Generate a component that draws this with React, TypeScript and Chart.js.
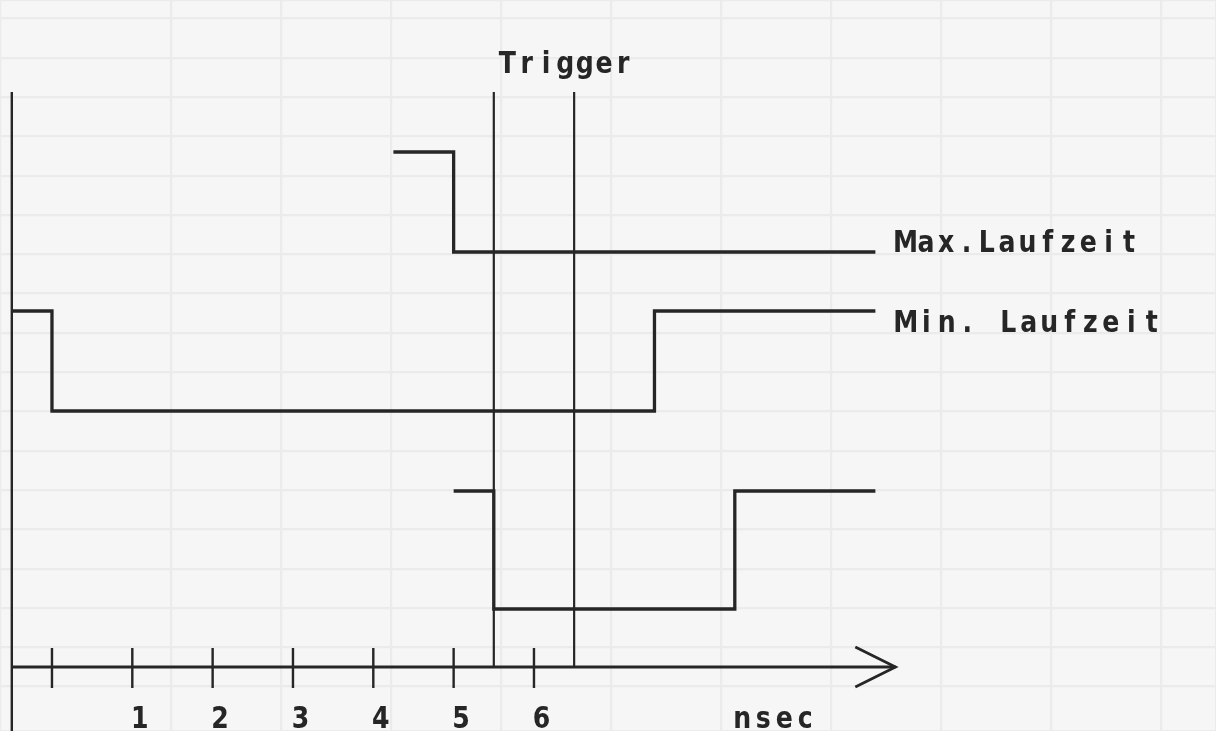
import { useEffect, useRef } from "react";
import { Chart, registerables } from "chart.js";

Chart.register(...registerables);

// time axis ticks (nsec)
const tickValues = [0, 1, 2, 3, 4, 5, 6];
const tickLabels = ["", "1", "2", "3", "4", "5", "6"];

// step signals (x in nsec, y in arbitrary level units)
const maxLaufzeitX = [4.25, 5, 5, 10.25];
const maxLaufzeitY = [51.5, 51.5, 41.5, 41.5];
const minLaufzeitX = [-0.5, 0, 0, 7.5, 7.5, 10.25];
const minLaufzeitY = [35.6, 35.6, 25.6, 25.6, 35.6, 35.6];
const signalX = [5, 5.5, 5.5, 8.5, 8.5, 10.25];
const signalY = [17.6, 17.6, 5.8, 5.8, 17.6, 17.6];

// trigger window
const triggerX = [5.5, 6.5];
const triggerTop = 57.5;

// frame / axis
const frameX = -0.5;
const frameTop = 57.5;
const frameBottom = -7;
const axisStart = -0.5;
const axisEnd = 10.5;
const arrowX = [10, 10.5, 10];
const arrowY = [2, 0, -2];
const tickTop = 1.9;
const tickBottom = -2.1;

// text annotations
const annotationTexts = ["Trigger", "Max.Laufzeit", "Min. Laufzeit", "nsec"];
const annotationX = [5.5, 10.5, 10.5, 8.5];
const annotationY = [59.4, 41.5, 33.5, -6.1];
const tickLabelY = -6.1;

const INK = "#262626";

const zip = (xs: number[], ys: number[]) => xs.map((x, i) => ({ x, y: ys[i] }));

export default function App() {
  const ref = useRef<HTMLCanvasElement | null>(null);

  useEffect(() => {
    if (!ref.current) return;

    const tickSegments: any[] = [];
    tickValues.forEach((t) => {
      tickSegments.push({ x: t, y: tickTop }, { x: t, y: tickBottom }, { x: t, y: null });
    });

    const triggerSegments: any[] = [];
    triggerX.forEach((t) => {
      triggerSegments.push({ x: t, y: triggerTop }, { x: t, y: 0 }, { x: t, y: null });
    });

    const drawSpaced = (
      ctx: CanvasRenderingContext2D,
      text: string,
      px: number,
      py: number,
      pitch: number,
      dx: number
    ) => {
      for (let i = 0; i < text.length; i++) {
        const ch = text[i];
        if (ch === " ") continue;
        const cx = px + dx + pitch * i + pitch / 2;
        ctx.save();
        ctx.translate(cx, py);
        ctx.scale(0.84, 1);
        ctx.fillText(ch, 0, 0);
        ctx.restore();
      }
    };

    const textPlugin = {
      id: "plotterText",
      afterDatasetsDraw(chart: any) {
        const ctx: CanvasRenderingContext2D = chart.ctx;
        const xs = chart.scales.x;
        const ys = chart.scales.y;
        ctx.save();
        ctx.fillStyle = INK;
        ctx.font = "bold 30px 'DejaVu Sans'";
        ctx.textAlign = "center";
        ctx.textBaseline = "alphabetic";
        const pitches = [19.3, 20.3, 20.5, 21];
        const offsets = [4, 0, 0, -3];
        annotationTexts.forEach((t, i) => {
          const px = xs.getPixelForValue(annotationX[i]);
          const py = ys.getPixelForValue(annotationY[i]);
          drawSpaced(ctx, t, px, py, pitches[i], offsets[i]);
        });
        ctx.font = "bold 30px 'DejaVu Sans'";
        tickValues.forEach((v, i) => {
          const lbl = tickLabels[i];
          if (!lbl) return;
          drawSpaced(ctx, lbl, xs.getPixelForValue(v), ys.getPixelForValue(tickLabelY), 20, -2.5);
        });
        ctx.restore();
      },
    };

    const base = {
      borderColor: INK,
      pointRadius: 0,
      tension: 0,
      fill: false,
      spanGaps: false,
    };

    const chart = new Chart(ref.current, {
      type: "line",
      data: {
        datasets: [
          { ...base, label: "Max. Laufzeit", data: zip(maxLaufzeitX, maxLaufzeitY), borderWidth: 3.3 },
          { ...base, label: "Min. Laufzeit", data: zip(minLaufzeitX, minLaufzeitY), borderWidth: 3.3 },
          { ...base, label: "Signal", data: zip(signalX, signalY), borderWidth: 3.3 },
          { ...base, label: "Trigger", data: triggerSegments, borderWidth: 2.2 },
          {
            ...base,
            label: "Frame",
            data: [
              { x: frameX, y: frameTop },
              { x: frameX, y: frameBottom },
            ],
            borderWidth: 2.4,
          },
          {
            ...base,
            label: "Axis",
            data: [
              { x: axisStart, y: 0 },
              { x: axisEnd, y: 0 },
            ],
            borderWidth: 2.8,
          },
          { ...base, label: "Arrow", data: zip(arrowX, arrowY), borderWidth: 2.8 },
          { ...base, label: "Ticks", data: tickSegments, borderWidth: 2.4 },
        ],
      },
      options: {
        animation: false,
        responsive: false,
        devicePixelRatio: 1,
        layout: { padding: 0 },
        plugins: { legend: { display: false }, tooltip: { enabled: false }, title: { display: false } },
        scales: {
          x: { type: "linear", min: -0.647, max: 14.49, display: false },
          y: { type: "linear", min: -6.4, max: 66.7, display: false },
          gx: {
            type: "linear",
            axis: "x",
            position: "chartArea",
            min: -0.5545,
            max: 10.5,
            ticks: { display: false, stepSize: 1 },
            grid: { color: "#ebebeb", lineWidth: 2.2, drawTicks: false },
            border: { display: false },
          },
          gy: {
            type: "linear",
            axis: "y",
            position: "chartArea",
            min: -1.13,
            max: 17.47,
            ticks: { display: false, stepSize: 1 },
            grid: { color: "#ebebeb", lineWidth: 2.2, drawTicks: false },
            border: { display: false },
          },
        } as any,
      },
      plugins: [textPlugin],
    });

    return () => chart.destroy();
  }, []);

  return (
    <div
      style={{
        position: "fixed",
        left: 0,
        top: 0,
        width: 1216,
        height: 731,
        background: "#f6f6f6",
      }}
    >
      <canvas ref={ref} width={1216} height={731} style={{ display: "block" }} />
    </div>
  );
}
